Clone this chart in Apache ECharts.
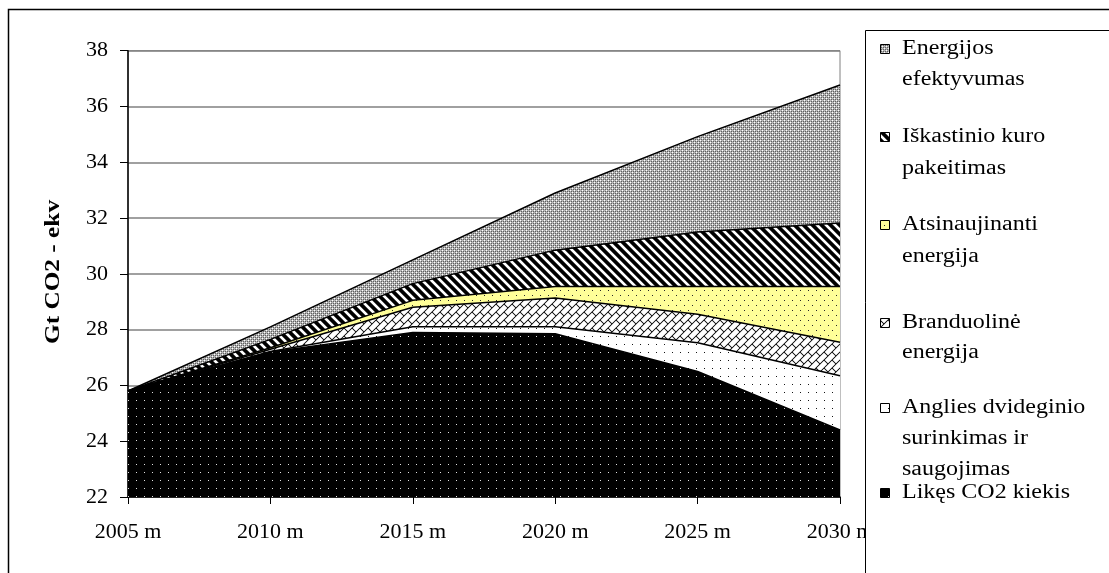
<!DOCTYPE html>
<html>
<head>
<meta charset="utf-8">
<script src="https://cdn.jsdelivr.net/npm/echarts@6/dist/echarts.min.js"></script>
<style>
  html, body { margin: 0; padding: 0; background: #fff; }
  #chart { width: 1109px; height: 573px; }
</style>
</head>
<body>
<div id="chart"></div>
<script>
// Categories (years) and stacked series values, Gt CO2-ekv
const years = ['2005 m', '2010 m', '2015 m', '2020 m', '2025 m', '2030 m'];
const likesCO2 = [25.8, 27.2, 27.9, 27.85, 26.5, 24.4];
const anglies = [0, 0.02, 0.2, 0.25, 1.03, 1.95];
const branduoline = [0, 0.08, 0.7, 1.03, 1.02, 1.2];
const atsinaujinanti = [0, 0.05, 0.25, 0.42, 1.0, 2.0];
const iskastinio = [0, 0.3, 0.6, 1.3, 1.95, 2.27];
const efektyvumas = [0, 0.45, 0.85, 2.05, 3.42, 4.95];

const yTicks = { min: 22, max: 38, step: 2 };
const yName = 'Gt CO2 - ekv';

// Legend entries, top to bottom, with their wrapped text lines
const legendItems = [
  { key: 'efektyvumas', lines: ['Energijos', 'efektyvumas'] },
  { key: 'iskastinio', lines: ['Iškastinio kuro', 'pakeitimas'] },
  { key: 'atsinaujinanti', lines: ['Atsinaujinanti', 'energija'] },
  { key: 'branduoline', lines: ['Branduolinė', 'energija'] },
  { key: 'anglies', lines: ['Anglies dvideginio', 'surinkimas ir', 'saugojimas'] },
  { key: 'likes', lines: ['Likęs CO2 kiekis'] }
];

// ---- fill patterns ----
const mod = (a, n) => ((a % n) + n) % n;

// Builds a repeating tile; shadeFn returns an [r,g,b] colour or null for each pixel.
function makeTile(w, h, shadeFn, bg) {
  const c = document.createElement('canvas');
  c.width = w; c.height = h;
  const ctx = c.getContext('2d');
  ctx.fillStyle = bg; ctx.fillRect(0, 0, w, h);
  if (shadeFn) {
    const img = ctx.getImageData(0, 0, w, h);
    for (let y = 0; y < h; y++) for (let x = 0; x < w; x++) {
      const col = shadeFn(x, y);
      if (col) {
        const i = (y * w + x) * 4;
        img.data[i] = col[0]; img.data[i + 1] = col[1]; img.data[i + 2] = col[2]; img.data[i + 3] = 255;
      }
    }
    ctx.putImageData(img, 0, 0);
  }
  return c;
}
// Supersampled coverage of a black ink function over a white tile
function inkTile(w, h, inkFn) {
  const S = 4;
  return makeTile(w, h, (x, y) => {
    let cov = 0;
    for (let sy = 0; sy < S; sy++) for (let sx = 0; sx < S; sx++) {
      if (inkFn(x + (sx + 0.5) / S, y + (sy + 0.5) / S)) cov++;
    }
    const v = Math.round(255 * (1 - cov / (S * S)));
    return [v, v, v];
  }, '#fff');
}

const patterns = {
  // grey lattice with white dots
  efektyvumas: makeTile(4, 4, (x, y) => {
    if ((x === 0 && y === 0) || (x === 2 && y === 2)) return [255, 255, 255];
    if (x % 2 === 1 && y % 2 === 1) return [95, 95, 95];
    return null;
  }, '#b4b4b4'),
  // wide black diagonal stripes
  iskastinio: inkTile(9, 9, (x, y) => mod(x - y, 9) < 5.2),
  // pale yellow with small dark dots
  atsinaujinanti: makeTile(8, 10, (x, y) => {
    if ((x === 0 && y === 0) || (x === 4 && y === 5)) return [40, 40, 40];
    return null;
  }, '#ffff99'),
  // diagonal brick
  branduoline: inkTile(16, 16, (x, y) => {
    const u = x + y, v = x - y;
    const du = Math.abs(mod(u + 4, 8) - 4);
    if (du < 0.75) return true;
    const row = mod(Math.floor(u / 8), 2);
    const dv = Math.abs(mod(v - row * 8 + 8, 16) - 8);
    return dv < 0.75;
  }),
  // white with sparse black dots
  anglies: makeTile(8, 8, (x, y) => (x === 0 && y === 0) ? [20, 20, 20] : null, '#fff'),
  // black with sparse light dots
  likes: makeTile(8, 8, (x, y) => (x === 0 && y === 0) ? [225, 225, 225] : null, '#000')
};
const pat = key => ({ image: patterns[key], repeat: 'repeat' });

const seriesDefs = [
  { key: 'likes', name: 'Likęs CO2 kiekis', data: likesCO2 },
  { key: 'anglies', name: 'Anglies dvideginio surinkimas ir saugojimas', data: anglies },
  { key: 'branduoline', name: 'Branduolinė energija', data: branduoline },
  { key: 'atsinaujinanti', name: 'Atsinaujinanti energija', data: atsinaujinanti },
  { key: 'iskastinio', name: 'Iškastinio kuro pakeitimas', data: iskastinio },
  { key: 'efektyvumas', name: 'Energijos efektyvumas', data: efektyvumas }
];

const FONT = '"Liberation Serif", "Times New Roman", serif';

// ---- legend, axis title and frame drawn as graphic elements ----
const graphics = [
  { type: 'rect', z: 100, shape: { x: 865.5, y: 30.5, width: 400, height: 700 },
    style: { fill: '#fff', stroke: '#000', lineWidth: 1 } }
];
const lineY = [[49, 80], [137, 169], [225, 257], [323, 353], [408, 439, 470], [493]];
legendItems.forEach((it, i) => {
  const ys = lineY[i];
  graphics.push({
    type: 'rect', z: 101,
    shape: { x: 880.5, y: ys[0] - 4.5, width: 9, height: 9 },
    style: { fill: pat(it.key), stroke: '#000', lineWidth: 1 }
  });
  it.lines.forEach((t, j) => {
    graphics.push({
      type: 'text', z: 101, x: 902, y: ys[j], scaleX: 1.2, scaleY: 1, originX: 0, originY: 0,
      style: { text: t, font: '20px ' + FONT, fill: '#000',
        textAlign: 'left', textVerticalAlign: 'middle', align: 'left', verticalAlign: 'middle' }
    });
  });
});
// vertical axis title
graphics.push({
  type: 'text', z: 50, x: 53, y: 272, rotation: Math.PI / 2, scaleX: 1.15, scaleY: 1,
  style: { text: yName, font: 'bold 22px ' + FONT, fill: '#000',
    textAlign: 'center', textVerticalAlign: 'middle', align: 'center', verticalAlign: 'middle' }
});
// outer frame
graphics.push({
  type: 'rect', z: 102, shape: { x: 8.5, y: 9.5, width: 1300, height: 800 },
  style: { fill: null, stroke: '#000', lineWidth: 1.5 }
});

const chart = echarts.init(document.getElementById('chart'), null, { renderer: 'canvas' });
chart.setOption({
  animation: false,
  backgroundColor: '#fff',
  grid: {
    left: 128, right: 269, top: 50.7, bottom: 76,
    show: true, borderColor: '#808080', borderWidth: 1, backgroundColor: 'transparent'
  },
  xAxis: {
    type: 'category', data: years, boundaryGap: false,
    axisLine: { lineStyle: { color: '#000', width: 1.5 } },
    axisTick: { show: true, length: 7, alignWithLabel: true, lineStyle: { color: '#000', width: 1 } },
    axisLabel: { color: '#000', fontFamily: FONT, fontSize: 22, margin: 24 },
    splitLine: { show: false }
  },
  yAxis: {
    type: 'value', min: yTicks.min, max: yTicks.max, interval: yTicks.step,
    axisLine: { show: true, lineStyle: { color: '#000', width: 1.5 } },
    axisTick: { show: true, length: 8, lineStyle: { color: '#000', width: 1 } },
    axisLabel: { color: '#000', fontFamily: FONT, fontSize: 22, margin: 20 },
    splitLine: { show: true, lineStyle: { color: '#808080', width: 1.5 } }
  },
  graphic: graphics,
  series: seriesDefs.map((s, i) => ({
    type: 'line', name: s.name, data: s.data, stack: 'total',
    z: 10 - i,
    symbol: 'none', smooth: false,
    lineStyle: { color: '#000', width: 1.5 },
    areaStyle: { color: pat(s.key), opacity: 1 }
  }))
});
</script>
</body>
</html>
